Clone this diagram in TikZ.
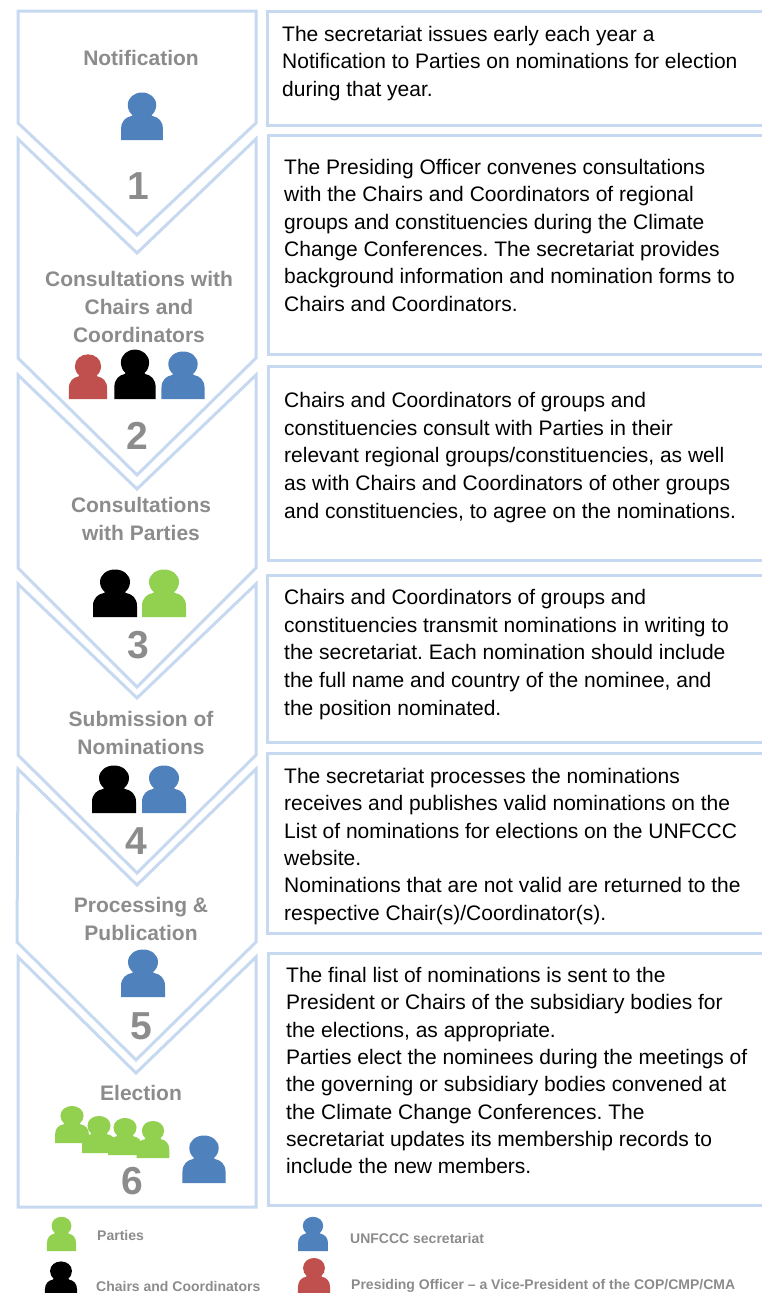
\documentclass[tikz,border=0pt]{standalone}
\usepackage{fontspec}
\setmainfont{Liberation Sans}
\frenchspacing
\definecolor{edge}{HTML}{C6D9F1}
\definecolor{lab}{HTML}{8C8C8C}
\definecolor{pblue}{HTML}{4F81BD}
\definecolor{pred}{HTML}{C0504D}
\definecolor{pgreen}{HTML}{92D050}
\tikzset{
 x=1pt,y=-1pt,
 panel/.style={draw=edge,line width=3pt,fill=white,line join=miter},
 body/.style={anchor=north west,align=left,font=\fontsize{21}{27.35}\selectfont,inner sep=0pt,text=black},
 bodywide/.style={body,font=\fontsize{21}{27.7}\selectfont},
 head/.style={align=center,font=\fontsize{21}{27.8}\selectfont\bfseries,text=lab,inner sep=0pt},
 num/.style={font=\fontsize{39}{39}\selectfont\bfseries,text=lab,inner sep=0pt},
 leg/.style={anchor=west,font=\fontsize{14}{14}\selectfont\bfseries,text=lab,inner sep=0pt},
 person/.pic={\fill[pic actions] (-22,0) -- (-22,-11) .. controls (-22,-19) and (-17,-23) .. (-11,-24) -- (-10,-25) .. controls (-13,-27) and (-15,-31) .. (-15,-35) .. controls (-15,-42.5) and (-8,-47.5) .. (0,-47.5) .. controls (8,-47.5) and (15,-42.5) .. (15,-35) .. controls (15,-31) and (13,-27) .. (10,-25) -- (11,-24) .. controls (17,-23) and (22,-19) .. (22,-11) -- (22,0) -- cycle;}
}
\begin{document}
\begin{tikzpicture}
\useasboundingbox (0,0) rectangle (762,1293);
% right panels
\draw[panel] (767,11) -- (267,11) -- (267,125) -- (767,125);
\draw[panel] (767,135) -- (268,135) -- (268,354) -- (767,354);
\draw[panel] (767,366) -- (268,366) -- (268,560) -- (767,560);
\draw[panel] (767,575) -- (267,575) -- (267,742) -- (767,742);
\draw[panel] (767,753) -- (267,753) -- (267,933) -- (767,933);
\draw[panel] (767,953) -- (268,953) -- (268,1205) -- (767,1205);
% chevrons
\draw[panel] (18,11) -- (256,11) -- (256,123) -- (137,235) -- (18,123) -- cycle;
\draw[panel] (18,139) -- (137,253) -- (256,139) -- (256,358) -- (137,475) -- (18,358) -- cycle;
\draw[panel] (18,375) -- (137,489) -- (256,375) -- (256,568) -- (137,687) -- (18,568) -- cycle;
\draw[panel] (18,584) -- (137,698) -- (256,584) -- (256,755) -- (137,873) -- (18,755) -- cycle;
\draw[panel] (18,769) -- (137,885) -- (256,769) -- (256,942) -- (136,1060) -- (17,942) -- cycle;
\draw[panel] (18,957) -- (136,1073) -- (256,957) -- (256,1207) -- (18,1207) -- cycle;
% headings
\node[head] (h1) at (141,58) {Notification};
\node[head] (h2) at (139,307) {Consultations with\\Chairs and\\Coordinators};
\node[head] (h3) at (141,519) {Consultations\\with Parties};
\node[head] (h4) at (141,733) {Submission of\\Nominations};
\node[head] (h5) at (141,919) {Processing \&\\Publication};
\node[head] (h6) at (141,1093) {Election};
% numbers
\node[num] (n1) at (138,186) {1};
\node[num] (n2) at (137,436) {2};
\node[num] (n3) at (138,645) {3};
\node[num] (n4) at (136,841) {4};
\node[num] (n5) at (141,1026) {5};
\node[num] (n6) at (132,1181) {6};
% body
\node[body] (t1) at (282,26) {The secretariat issues early each year a\\Notification to Parties on nominations for election\\during that year.};
\node[body] (t2) at (284,159) {The Presiding Officer convenes consultations\\with the Chairs and Coordinators of regional\\groups and constituencies during the Climate\\Change Conferences. The secretariat provides\\background information and nomination forms to\\Chairs and Coordinators.};
\node[bodywide] (t3) at (284,392) {Chairs and Coordinators of groups and\\constituencies consult with Parties in their\\relevant regional groups/constituencies, as well\\as with Chairs and Coordinators of other groups\\and constituencies, to agree on the nominations.};
\node[bodywide] (t4) at (284,589) {Chairs and Coordinators of groups and\\constituencies transmit nominations in writing to\\the secretariat. Each nomination should include\\the full name and country of the nominee, and\\the position nominated.};
\node[body] (t5) at (284,768) {The secretariat processes the nominations\\receives and publishes valid nominations on the\\List of nominations for elections on the UNFCCC\\website.\\Nominations that are not valid are returned to the\\respective Chair(s)/Coordinator(s).};
\node[body] (t6) at (286,967) {The final list of nominations is sent to the\\President or Chairs of the subsidiary bodies for\\the elections, as appropriate.\\Parties elect the nominees during the meetings of\\the governing or subsidiary bodies convened at\\the Climate Change Conferences. The\\secretariat updates its membership records to\\include the new members.};
% people
\pic[fill=pblue,xscale=.95] at (142,140) {person};
\pic[fill=pred,xscale=.87,yscale=.94] at (88,399) {person};
\pic[fill=black,xscale=.94,yscale=1.04] at (135,399) {person};
\pic[fill=pblue,xscale=.98] at (183,399) {person};
\pic[fill=black] at (115,617) {person};
\pic[fill=pgreen] at (164,617) {person};
\pic[fill=black] at (114,813) {person};
\pic[fill=pblue] at (164,813) {person};
\pic[fill=pblue] at (143,997) {person};
\pic[fill=pgreen,xscale=.77,yscale=.78] at (72,1143) {person};
\pic[fill=pgreen,xscale=.77,yscale=.78] at (99,1153) {person};
\pic[fill=pgreen,xscale=.77,yscale=.78] at (125,1155) {person};
\pic[fill=pgreen,xscale=.74,yscale=.78] at (153,1158) {person};
\pic[fill=pblue,xscale=.98] at (204,1183) {person};
% legend
\pic[fill=pgreen,xscale=.66,yscale=.72] at (61.5,1251) {person};
\pic[fill=pblue,xscale=.68,yscale=.72] at (313,1251) {person};
\pic[fill=black,xscale=.73,yscale=.77] at (61,1298) {person};
\pic[fill=pred,xscale=.73,yscale=.8] at (314,1296) {person};
\node[leg] (l1) at (97,1235) {Parties};
\node[leg] (l2) at (350,1238) {UNFCCC secretariat};
\node[leg] (l3) at (96,1286) {Chairs and Coordinators};
\node[leg] (l4) at (351,1286) {Presiding Officer – a Vice-President of the COP/CMP/CMA};
\end{tikzpicture}
\end{document}
